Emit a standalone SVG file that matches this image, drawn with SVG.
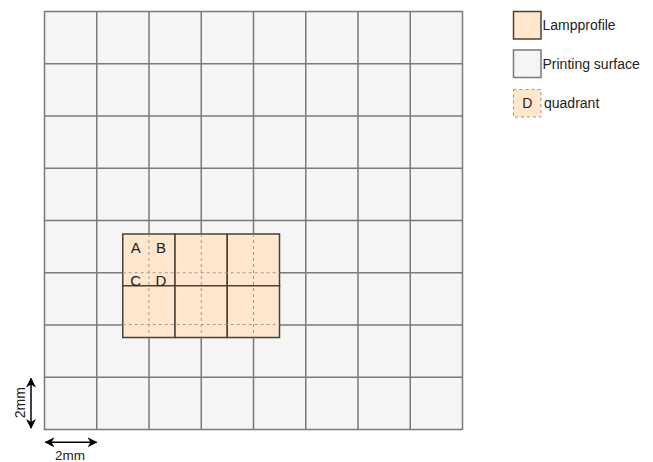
<svg xmlns="http://www.w3.org/2000/svg" width="653" height="462" viewBox="0 0 653 462">
<defs>
<style>
.cell{fill:#f5f5f5;stroke:#7a7a7a;stroke-width:1.5}
.lamp{fill:#ffe6cc;stroke:#4a4035;stroke-width:1.5}
.quad{fill:none;stroke:#a09a92;stroke-width:1;stroke-dasharray:3 3}
.t{font-family:"Liberation Sans",Arial,sans-serif;fill:#222}
.conn{stroke:#000;stroke-width:1.5;fill:none}
</style>
<marker id="ah" viewBox="0 0 10 10" refX="9" refY="5" markerWidth="10" markerHeight="10" markerUnits="userSpaceOnUse" orient="auto-start-reverse">
<path d="M0,0 L10,5 L0,10 L3,5 Z" fill="#000"/>
</marker>
</defs>
<g id="printing-surface">
<rect class="cell" x="44.5" y="11.5" width="418" height="418"/>
<path class="cell" style="fill:none" d="M96.75,11.5V429.5M149,11.5V429.5M201.25,11.5V429.5M253.5,11.5V429.5M305.75,11.5V429.5M358,11.5V429.5M410.25,11.5V429.5M44.5,63.75H462.5M44.5,116H462.5M44.5,168.25H462.5M44.5,220.5H462.5M44.5,272.75H462.5M44.5,325H462.5M44.5,377.25H462.5"/>
</g>
<g id="lampprofile">
<rect class="lamp" x="122.75" y="234" width="52.25" height="51.75"/>
<rect class="lamp" x="175" y="234" width="52.25" height="51.75"/>
<rect class="lamp" x="227.25" y="234" width="52.25" height="51.75"/>
<rect class="lamp" x="122.75" y="285.75" width="52.25" height="51.75"/>
<rect class="lamp" x="175" y="285.75" width="52.25" height="51.75"/>
<rect class="lamp" x="227.25" y="285.75" width="52.25" height="51.75"/>
</g>
<g id="quadrants">
<path class="quad" d="M149,234V337.5M201.25,234V337.5M253.5,234V337.5M122.75,272.75H279.5M122.75,324.5H279.5"/>
<text class="t" x="135.7" y="253" font-size="15" text-anchor="middle">A</text>
<text class="t" x="161" y="253" font-size="15" text-anchor="middle">B</text>
<text class="t" x="135.7" y="285.5" font-size="15" text-anchor="middle">C</text>
<text class="t" x="161" y="285.5" font-size="15" text-anchor="middle">D</text>
</g>
<g id="legend-lampprofile">
<rect class="lamp" x="513.5" y="11.5" width="27.5" height="27.5"/>
<text class="t" x="542.5" y="30" font-size="14">Lampprofile</text>
</g>
<g id="legend-printing-surface">
<rect class="cell" x="513.5" y="50" width="27.5" height="27.5"/>
<text class="t" x="542.5" y="68.5" font-size="14">Printing surface</text>
</g>
<g id="legend-quadrant">
<rect x="513.5" y="89.5" width="27.5" height="27.5" fill="#ffe6cc" stroke="#a09a92" stroke-dasharray="3 3"/>
<text class="t" x="527.25" y="108.3" font-size="14" text-anchor="middle">D</text>
<text class="t" x="544" y="108" font-size="14">quadrant</text>
</g>
<g id="connectors">
<line class="conn" x1="31" y1="378.5" x2="31" y2="428" marker-start="url(#ah)" marker-end="url(#ah)"/>
<line class="conn" x1="45.5" y1="442.3" x2="96.5" y2="442.3" marker-start="url(#ah)" marker-end="url(#ah)"/>
</g>
<g id="labels">
<text class="t" x="0" y="0" font-size="14" text-anchor="middle" transform="translate(24.5,402.7) rotate(-90)">2mm</text>
<text class="t" x="70" y="459.5" font-size="13.5" text-anchor="middle">2mm</text>
</g>
</svg>
